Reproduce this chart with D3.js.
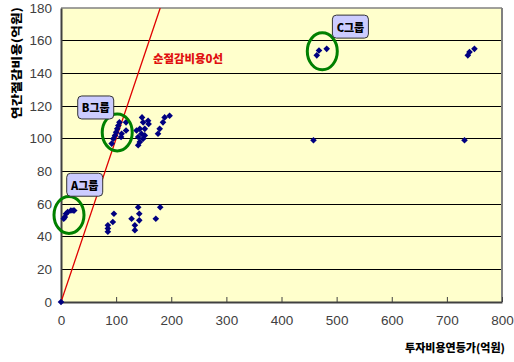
<!DOCTYPE html>
<html><head><meta charset="utf-8">
<script src="https://cdn.jsdelivr.net/npm/d3@7"></script>
<style>body{margin:0;background:#fff}svg{display:block}</style>
</head><body><svg id="c" width="514" height="362"></svg>
<script>
// ---- data ----
const xTicks = [0,100,200,300,400,500,600,700,800];
const yTicks = [0,20,40,60,80,100,120,140,160,180];
const investX = [0,5,7,9,12,18,22,24,
  85,85,85,94,96,128,134,134,140,142,142,172,180,
  92,95,98,100,102,104,106,109,110,118,118,
  137,140,140,143,143,146,147,149,149,152,152,158,159,176,179,185,188,197,
  458,464,468,482,732,738,741,750];
const savingY = [0,51,52,54,55,56,56,56,
  47,45,43,49,54,51,47,44,58,54,50,51,58,
  97,100,102,104,106,108,110,101,103,110,105,
  105,101,96,98,106,103,113,110,100,106,102,111,109,103,106,110,113,114,
  99,151,154,155,99,151,153,155];
const groupNames = ["A그룹","B그룹","C그룹"];
const groupCenterX = [14.5,102,474];
const groupCenterY = [53.3,103.8,153.5];
const groupLabelX = [43,63,525];
const groupLabelY = [71.8,119.1,168.6];
const zeroLineLabel = "순절감비용0선";
const xTitle = "투자비용연등가(억원)";
const yTitle = "연간절감비용(억원)";

// ---- layout ----
const svg = d3.select("#c");
const L=61, R=502, T=8, B=302;
const x = d3.scaleLinear().domain([0,800]).range([L,R]);
const y = d3.scaleLinear().domain([0,180]).range([B,T]);

svg.append("rect").attr("x",L).attr("y",T).attr("width",R-L).attr("height",B-T).attr("fill","#FFFFCC");

// gridlines
svg.append("g").selectAll("line").data(yTicks.filter(d=>d>0&&d<180)).join("line")
  .attr("x1",L).attr("x2",R).attr("y1",d=>y(d)).attr("y2",d=>y(d))
  .attr("stroke","#000").attr("stroke-width",1).attr("shape-rendering","crispEdges");

// border top/right
svg.append("line").attr("x1",L).attr("x2",R).attr("y1",T).attr("y2",T).attr("stroke","#808080").attr("stroke-width",1.5);
svg.append("line").attr("x1",R).attr("x2",R).attr("y1",T).attr("y2",B).attr("stroke","#808080").attr("stroke-width",2);

// axes
const xAxis = svg.append("g").attr("transform",`translate(0,${B})`)
  .call(d3.axisBottom(x).tickValues(xTicks).tickSizeInner(-5).tickSizeOuter(0).tickPadding(13));
const yAxis = svg.append("g").attr("transform",`translate(${L},0)`)
  .call(d3.axisLeft(y).tickValues(yTicks).tickSize(0).tickPadding(9));
[xAxis,yAxis].forEach(a=>{
  a.select(".domain").attr("stroke","#404040").attr("stroke-width",2);
  a.selectAll(".tick line").attr("stroke","#404040");
  a.selectAll("text").attr("font-family","Liberation Sans, Arial, sans-serif").attr("font-size",13.5).attr("fill","#404040");
});

// zero net-saving line y = x
const clipId="pc";
svg.append("clipPath").attr("id",clipId).append("rect").attr("x",L).attr("y",T).attr("width",R-L).attr("height",B-T);
svg.append("line").attr("clip-path",`url(#${clipId})`)
  .attr("x1",x(0)).attr("y1",y(0)).attr("x2",x(180)).attr("y2",y(180))
  .attr("stroke","#E00000").attr("stroke-width",1.3);
svg.append("text").attr("x",x(167)).attr("y",y(148)).text(zeroLineLabel)
  .attr("font-family","Noto Sans CJK KR").attr("font-weight",900).attr("font-size",11.5)
  .attr("fill","#E01010").attr("dominant-baseline","middle")
  .attr("textLength",70).attr("lengthAdjust","spacingAndGlyphs");

// points
const pts = investX.map((v,i)=>[v,savingY[i]]);
svg.append("g").selectAll("path").data(pts).join("path")
  .attr("d",d3.symbol(d3.symbolDiamond2,28))
  .attr("transform",d=>`translate(${x(d[0])},${y(d[1])})`)
  .attr("fill","#000080");

// ellipses
svg.append("g").selectAll("ellipse").data(groupNames).join("ellipse")
  .attr("cx",(d,i)=>x(groupCenterX[i])).attr("cy",(d,i)=>y(groupCenterY[i]))
  .attr("rx",15).attr("ry",18.5).attr("fill","none").attr("stroke","#008000").attr("stroke-width",3);

// labels
const lg = svg.append("g").selectAll("g").data(groupNames).join("g")
  .attr("transform",(d,i)=>`translate(${x(groupLabelX[i])},${y(groupLabelY[i])})`);
lg.append("rect").attr("x",-18).attr("y",-11.5).attr("width",36).attr("height",23).attr("rx",4)
  .attr("fill","#CCCCFF").attr("stroke","#333").attr("stroke-width",1);
lg.append("text").text(d=>d).attr("text-anchor","middle").attr("dominant-baseline","central")
  .attr("font-family","Noto Sans CJK KR").attr("font-weight",900).attr("font-size",11).attr("fill","#000");

// axis titles
svg.append("text").attr("x",505).attr("y",352).attr("text-anchor","end").text(xTitle)
  .attr("font-family","Noto Sans CJK KR").attr("font-weight",900).attr("font-size",11)
  .attr("textLength",100).attr("lengthAdjust","spacingAndGlyphs");
svg.append("text").attr("transform","translate(16,63) rotate(-90)").attr("text-anchor","middle")
  .attr("dominant-baseline","central").text(yTitle)
  .attr("font-family","Noto Sans CJK KR").attr("font-weight",900).attr("font-size",11.5)
  .attr("textLength",112).attr("lengthAdjust","spacingAndGlyphs");
</script></body></html>
